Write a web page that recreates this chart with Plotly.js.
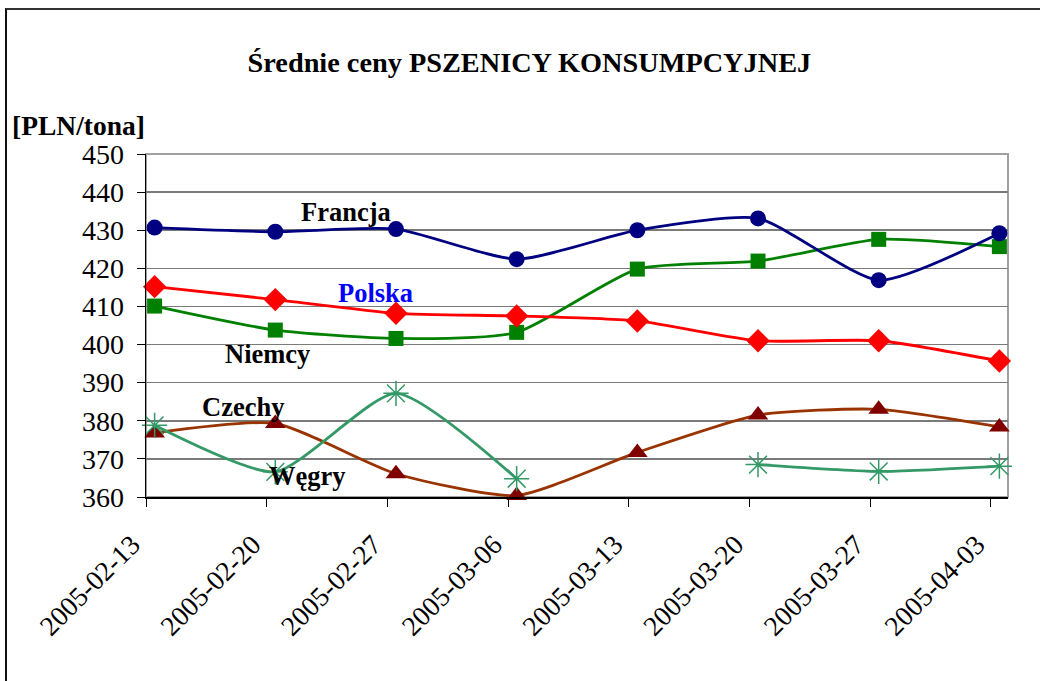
<!DOCTYPE html>
<html>
<head>
<meta charset="utf-8">
<script src="https://cdn.plot.ly/plotly-3.0.1.min.js"></script>
<style>
  html, body { margin:0; padding:0; background:#ffffff; overflow:hidden; width:1040px; height:681px; }
  #frame { position:absolute; left:5px; top:8px; width:1100px; height:800px; border-top:2px solid #333333; border-left:2px solid #111111; }
  #chart { position:absolute; left:0; top:0; width:1040px; height:681px; }
</style>
</head>
<body>
<div id="frame"></div>
<div id="chart"></div>
<script>
// ---- data ----
const dates = ['2005-02-13','2005-02-20','2005-02-27','2005-03-06','2005-03-13','2005-03-20','2005-03-27','2005-04-03'];
const francja = [430.7, 429.6, 430.3, 422.4, 430.0, 433.1, 416.9, 429.2];
const polska  = [415.2, 411.8, 408.2, 407.5, 406.2, 401.0, 401.0, 395.7];
const niemcy  = [410.1, 403.8, 401.6, 403.2, 419.8, 421.9, 427.6, 425.7];
const czechy  = [376.8, 379.3, 366.1, 360.4, 371.7, 381.5, 383.0, 378.4];
const wegry   = [378.8, 366.6, 387.2, 364.8, null, 368.5, 366.7, 368.1];
const yTicks = [360, 370, 380, 390, 400, 410, 420, 430, 440, 450];
const titleText = 'Średnie ceny PSZENICY KONSUMPCYJNEJ';
const yTitleText = '[PLN/tona]';

// data points sit in the middle of each day (Excel date axis)
const xPts = dates.map(d => d + ' 12:00');

const FONT = 'Liberation Serif';

function series(name, y, lineColor, markerColor, symbol, size, extra) {
  const m = Object.assign({ color: markerColor, symbol: symbol, size: size, line: { width: 0 } }, extra || {});
  return {
    x: xPts, y: y, name: name, type: 'scatter', mode: 'lines+markers',
    line: { color: lineColor, width: 2.8, shape: 'spline', smoothing: 0.6 },
    marker: m, connectgaps: false, cliponaxis: false, hoverinfo: 'x+y+name'
  };
}

const traces = [
  series('Czechy', czechy, '#993300', '#800000', 'triangle-up', 18),
  series('Węgry', wegry, '#339966', '#339966', 'asterisk-open', 21, { line: { color: '#339966', width: 1.5 } }),
  series('Niemcy', niemcy, '#008000', '#008000', 'square', 15),
  series('Polska', polska, '#ff0000', '#ff0000', 'diamond', 18),
  series('Francja', francja, '#000080', '#000080', 'circle', 16)
];

function ann(text, x, y, color) {
  return { text: '<b>' + text + '</b>', xref: 'paper', yref: 'paper', x: x, y: y,
           xanchor: 'center', yanchor: 'middle', showarrow: false,
           font: { family: FONT, size: 26.5, color: color } };
}

const layout = {
  width: 1040, height: 681,
  font: { family: FONT, color: '#000000' },
  paper_bgcolor: 'rgba(0,0,0,0)', plot_bgcolor: 'rgba(0,0,0,0)',
  margin: { l: 146, r: 32, t: 154, b: 184, pad: 0 },
  showlegend: false,
  title: { text: '<b>' + titleText + '</b>', x: 0.509, xanchor: 'center', y: 0.909, yanchor: 'middle',
           font: { family: FONT, size: 28.3, color: '#000000' } },
  xaxis: {
    type: 'date', range: ['2005-02-13', '2005-04-04'],
    tickmode: 'array', tickvals: dates, ticktext: dates,
    tickangle: -45, ticks: 'outside', ticklen: 8, tickcolor: '#000000', tickwidth: 1,
    tickfont: { family: FONT, size: 27.5, color: '#000000' },
    ticklabelstandoff: 11, ticklabelshift: -14,
    showgrid: false, zeroline: false,
    showline: true, linecolor: '#000000', linewidth: 1.5
  },
  yaxis: {
    range: [360, 450], tickmode: 'array', tickvals: yTicks, ticktext: yTicks.map(String),
    ticks: 'outside', ticklen: 8, tickcolor: '#000000', tickwidth: 1,
    tickfont: { family: FONT, size: 28, color: '#000000' },
    ticklabelstandoff: 7,
    showgrid: true, gridcolor: '#7a7a7a', gridwidth: 1.6,
    zeroline: false, showline: true, linecolor: '#000000', linewidth: 1.5
  },
  shapes: [
    { type: 'rect', xref: 'paper', yref: 'paper', x0: 0, x1: 1, y0: 0, y1: 1,
      line: { color: '#a0a0a0', width: 2 }, layer: 'below' }
  ],
  annotations: [
    { text: '<b>' + yTitleText + '</b>', xref: 'paper', yref: 'paper', x: -0.1575, y: 1.082,
      xanchor: 'left', yanchor: 'middle', showarrow: false,
      font: { family: FONT, size: 27.5, color: '#000000' } },
    ann('Francja', 0.232, 0.831, '#000000'),
    ann('Polska', 0.266, 0.594, '#0000ff'),
    ann('Niemcy', 0.141, 0.416, '#000000'),
    ann('Czechy', 0.113, 0.262, '#000000'),
    ann('Węgry', 0.187, 0.060, '#000000')
  ]
};

Plotly.newPlot('chart', traces, layout, { staticPlot: true, displayModeBar: false });
</script>
</body>
</html>
